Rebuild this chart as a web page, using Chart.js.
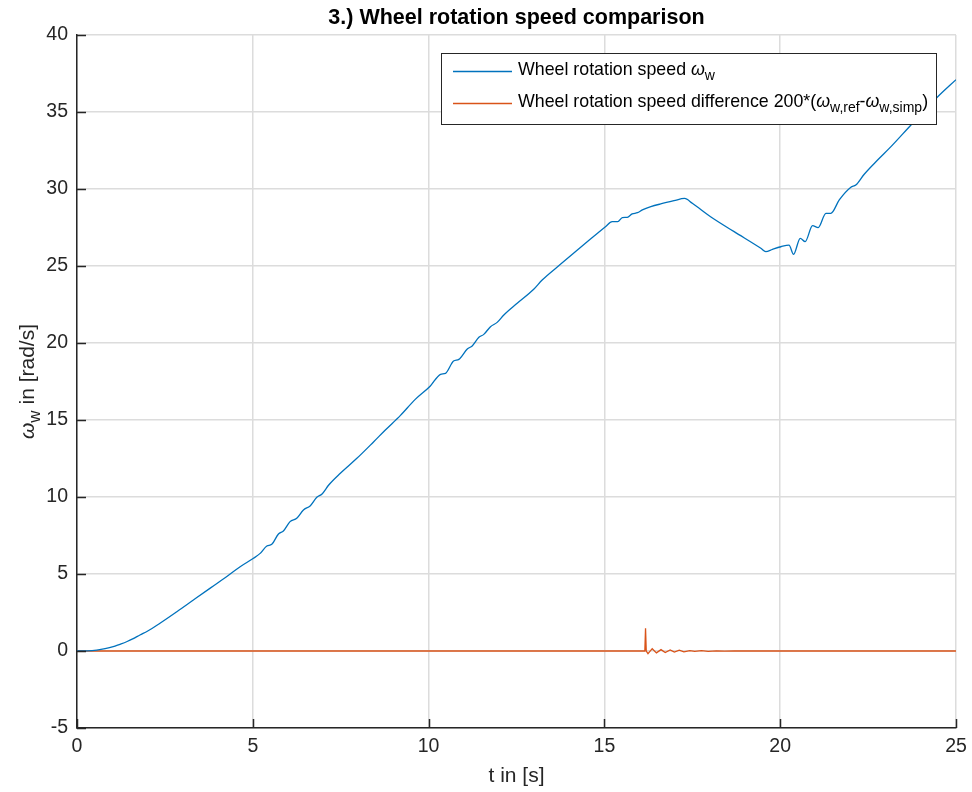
<!DOCTYPE html>
<html>
<head>
<meta charset="utf-8">
<script src="https://cdn.jsdelivr.net/npm/chart.js@4.4.1/dist/chart.umd.min.js"></script>
<style>
html,body{margin:0;padding:0;background:#fff;}
canvas{display:block;}
</style>
</head>
<body>
<canvas id="c" width="972" height="792"></canvas>
<script>
// ---- data ----
const tWheel = [0, 0.3, 0.56, 0.8, 1.03, 1.2, 1.41, 1.6, 1.79, 2.0, 2.36, 2.84, 3.31, 3.8, 4.3, 4.64, 5.02, 5.21, 5.40, 5.54, 5.73, 5.87, 6.06, 6.25, 6.44, 6.63, 6.82, 6.97, 7.16, 7.49, 7.96, 8.44, 8.77, 9.2, 9.62, 10.05, 10.34, 10.48, 10.71, 10.86, 11.1, 11.24, 11.43, 11.57, 11.76, 11.95, 12.14, 12.52, 12.99, 13.23, 13.75, 14.46, 15.03, 15.22, 15.38, 15.51, 15.65, 15.79, 15.94, 16.08, 16.32, 16.6, 16.98, 17.28, 17.5, 18.02, 18.69, 19.45, 19.59, 19.78, 20.02, 20.25, 20.38, 20.57, 20.71, 20.92, 21.08, 21.3, 21.44, 21.68, 22.01, 22.15, 22.39, 22.77, 23.15, 23.72, 24.48, 25];
const omegaWheel = [0, 0.01, 0.06, 0.15, 0.28, 0.42, 0.6, 0.8, 1.04, 1.28, 1.8, 2.55, 3.31, 4.1, 4.9, 5.47, 6.02, 6.34, 6.82, 6.93, 7.6, 7.79, 8.4, 8.62, 9.16, 9.42, 9.98, 10.2, 10.78, 11.54, 12.51, 13.59, 14.35, 15.3, 16.34, 17.21, 17.97, 18.03, 18.83, 18.94, 19.61, 19.81, 20.37, 20.56, 21.06, 21.34, 21.82, 22.58, 23.49, 24.09, 25.11, 26.47, 27.55, 27.88, 27.88, 28.14, 28.16, 28.38, 28.46, 28.64, 28.85, 29.03, 29.24, 29.39, 29.07, 28.2, 27.23, 26.15, 25.93, 26.08, 26.25, 26.36, 25.76, 26.8, 26.58, 27.62, 27.49, 28.42, 28.42, 29.29, 30.11, 30.26, 30.96, 31.88, 32.75, 34.16, 35.99, 37.1];
const tDiff = [0, 16.15, 16.17, 16.19, 16.24, 16.36, 16.48, 16.61, 16.73, 16.87, 16.99, 17.13, 17.26, 17.43, 17.57, 17.76, 17.95, 18.19, 18.42, 18.7, 25];
const diffScaled = [0, 0, 1.47, 0, -0.17, 0.15, -0.12, 0.09, -0.1, 0.07, -0.07, 0.05, -0.05, 0.03, -0.03, 0.02, -0.02, 0.01, -0.01, 0, 0];
const xTicks = [0, 5, 10, 15, 20, 25];
const yTicks = [-5, 0, 5, 10, 15, 20, 25, 30, 35, 40];
const titleText = '3.) Wheel rotation speed comparison';
const xTitle = 't in [s]';
const seriesNames = ['Wheel rotation speed', 'Wheel rotation speed difference 200*('];

const FONT = "'Liberation Sans', Arial, Helvetica, sans-serif";
const TXT = '#262626';
const BLUE = '#0072BD';
const RED = '#D95319';

function toXY(xs, ys) { return xs.map((x, i) => ({x: x, y: ys[i]})); }

function drawRich(ctx, segs, x, y, size) {
  let cx = x;
  for (const s of segs) {
    const sz = s.sub ? Math.round(size * 0.8) : size;
    ctx.font = (s.italic ? 'italic ' : '') + sz + 'px ' + FONT;
    const dy = s.sub ? size * 0.34 : 0;
    ctx.fillText(s.t, cx, y + dy);
    cx += ctx.measureText(s.t).width;
  }
  return cx - x;
}
function richWidth(ctx, segs, size) {
  let w = 0;
  for (const s of segs) {
    const sz = s.sub ? Math.round(size * 0.8) : size;
    ctx.font = (s.italic ? 'italic ' : '') + sz + 'px ' + FONT;
    w += ctx.measureText(s.t).width;
  }
  return w;
}

const decor = {
  id: 'decor',
  afterDraw(chart) {
    const ctx = chart.ctx;
    const a = chart.chartArea;
    const xs = chart.scales.x, ys = chart.scales.y;
    ctx.save();
    ctx.strokeStyle = TXT;
    ctx.lineWidth = 1.5;
    ctx.beginPath();
    for (const v of yTicks) {
      const py = Math.round(ys.getPixelForValue(v)) + 0.5;
      ctx.moveTo(a.left, py); ctx.lineTo(a.left + 9, py);
    }
    for (const v of xTicks) {
      const px = Math.round(xs.getPixelForValue(v)) + 0.5;
      ctx.moveTo(px, a.bottom); ctx.lineTo(px, a.bottom - 9);
    }
    ctx.stroke();

    const cxm = (a.left + a.right) / 2;
    // title
    ctx.fillStyle = '#000';
    ctx.font = 'bold 21.5px ' + FONT;
    ctx.textAlign = 'center';
    ctx.textBaseline = 'middle';
    ctx.fillText(titleText, cxm, 18);

    // x title
    ctx.fillStyle = TXT;
    ctx.font = '21px ' + FONT;
    ctx.fillText(xTitle, cxm, 776);

    // y title (rotated, with subscript)
    const ySegs = [{t: 'ω', italic: true}, {t: 'w', sub: true}, {t: ' in [rad/s]'}];
    ctx.save();
    ctx.translate(28, (a.top + a.bottom) / 2);
    ctx.rotate(-Math.PI / 2);
    ctx.textAlign = 'left';
    ctx.textBaseline = 'middle';
    const yw = richWidth(ctx, ySegs, 21);
    drawRich(ctx, ySegs, -yw / 2, 0, 21);
    ctx.restore();

    // legend
    const lx = 441, ly = 53, lw = 495, lh = 71;
    ctx.fillStyle = '#fff';
    ctx.fillRect(lx, ly, lw, lh);
    ctx.strokeStyle = '#262626';
    ctx.lineWidth = 1;
    ctx.strokeRect(lx + 0.5, ly + 0.5, lw, lh);
    ctx.lineWidth = 1.3;
    ctx.strokeStyle = BLUE;
    ctx.beginPath(); ctx.moveTo(453, 71.5); ctx.lineTo(512, 71.5); ctx.stroke();
    ctx.strokeStyle = RED;
    ctx.beginPath(); ctx.moveTo(453, 103.5); ctx.lineTo(512, 103.5); ctx.stroke();
    ctx.fillStyle = '#000';
    ctx.textAlign = 'left';
    ctx.textBaseline = 'middle';
    drawRich(ctx, [{t: seriesNames[0] + ' '}, {t: 'ω', italic: true}, {t: 'w', sub: true}], 518, 70, 17.8);
    drawRich(ctx, [{t: seriesNames[1]}, {t: 'ω', italic: true}, {t: 'w,ref', sub: true}, {t: '-'}, {t: 'ω', italic: true}, {t: 'w,simp', sub: true}, {t: ')'}], 518, 102, 17.8);
    ctx.restore();
  }
};

new Chart(document.getElementById('c'), {
  type: 'line',
  data: {
    datasets: [
      {label: 'Wheel rotation speed', data: toXY(tWheel, omegaWheel), borderColor: BLUE, borderWidth: 1.3, pointRadius: 0, cubicInterpolationMode: 'monotone', fill: false},
      {label: 'Wheel rotation speed difference', data: toXY(tDiff, diffScaled), borderColor: RED, borderWidth: 1.3, pointRadius: 0, tension: 0, fill: false}
    ]
  },
  options: {
    responsive: false,
    devicePixelRatio: 1,
    animation: false,
    layout: {padding: {top: 35, right: 16, left: 0, bottom: 0}},
    plugins: {legend: {display: false}, title: {display: false}, tooltip: {enabled: false}},
    scales: {
      x: {
        type: 'linear', min: 0, max: 25,
        afterFit(s) { s.height = 64; s.paddingRight = 0; s.paddingLeft = 0; },
        afterBuildTicks(s) { s.ticks = xTicks.map(v => ({value: v})); },
        ticks: {color: TXT, font: {family: FONT, size: 19.5}, padding: 7, maxRotation: 0},
        grid: {color: '#dcdcdc', lineWidth: 1.5, drawTicks: false},
        border: {display: true, color: TXT, width: 1.5}
      },
      y: {
        type: 'linear', min: -5, max: 40,
        afterFit(s) { s.width = 77; s.paddingTop = 0; s.paddingBottom = 0; },
        afterBuildTicks(s) { s.ticks = yTicks.map(v => ({value: v})); },
        ticks: {color: TXT, font: {family: FONT, size: 19.5}, padding: 9},
        grid: {color: '#dcdcdc', lineWidth: 1.5, drawTicks: false},
        border: {display: true, color: TXT, width: 1.5}
      }
    }
  },
  plugins: [decor]
});
</script>
</body>
</html>
